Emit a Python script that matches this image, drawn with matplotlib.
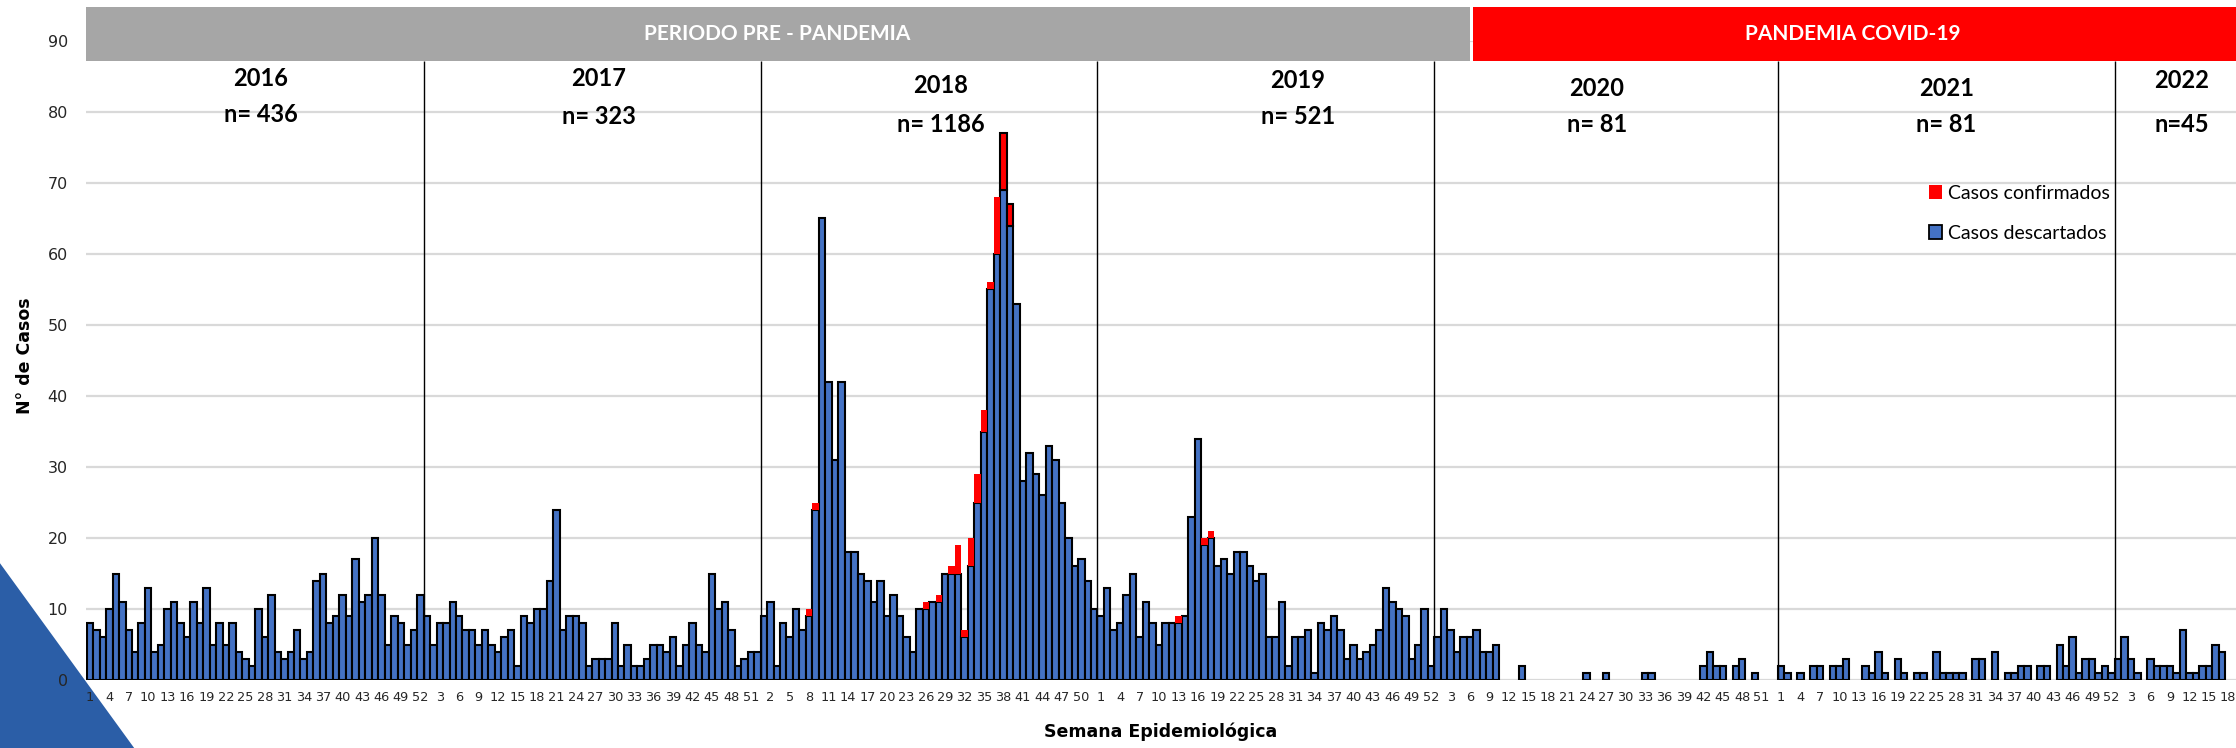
import numpy as np
import matplotlib
matplotlib.use('Agg')
import matplotlib.pyplot as plt
from matplotlib.patches import Patch, Rectangle, Polygon

# ---------------- data ----------------
years = ['2016', '2017', '2018', '2019', '2020', '2021', '2022']
n_labels = ['n= 436', 'n= 323', 'n= 1186', 'n= 521', 'n= 81', 'n= 81', 'n=45']
weeks_per_year = [52, 52, 52, 52, 53, 52, 18]

desc_2016 = [8, 7, 6, 10, 15, 11, 7, 4, 8, 13, 4, 5, 10, 11, 8, 6, 11, 8, 13, 5, 8, 5, 8, 4, 3, 2,
             10, 6, 12, 4, 3, 4, 7, 3, 4, 14, 15, 8, 9, 12, 9, 17, 11, 12, 20, 12, 5, 9, 8, 5, 7, 12]
desc_2017 = [9, 5, 8, 8, 11, 9, 7, 7, 5, 7, 5, 4, 6, 7, 2, 9, 8, 10, 10, 14, 24, 7, 9, 9, 8, 2,
             3, 3, 3, 8, 2, 5, 2, 2, 3, 5, 5, 4, 6, 2, 5, 8, 5, 4, 15, 10, 11, 7, 2, 3, 4, 4]
desc_2018 = [9, 11, 2, 8, 6, 10, 7, 9, 24, 65, 42, 31, 42, 18, 18, 15, 14, 11, 14, 9, 12, 9, 6, 4, 10, 10, 11,
             11, 15, 15, 15, 6, 16, 25, 35, 55, 60, 69, 64, 53, 28, 32, 29, 26, 33, 31, 25, 20, 16, 17, 14, 10]
desc_2019 = [9, 13, 7, 8, 12, 15, 6, 11, 8, 5, 8, 8, 8, 9, 23, 34, 19, 20, 16, 17, 15, 18, 18, 16, 14, 15, 6,
             6, 11, 2, 6, 6, 7, 1, 8, 7, 9, 7, 3, 5, 3, 4, 5, 7, 13, 11, 10, 9, 3, 5, 10, 2]
desc_2020 = [6, 10, 7, 4, 6, 6, 7, 4, 4, 5, 0, 0, 0, 2, 0, 0, 0, 0, 0, 0,
             0, 0, 0, 1, 0, 0, 1, 0, 0, 0, 0, 0, 1, 1, 0, 0, 0, 0, 0, 0,
             0, 2, 4, 2, 2, 0, 2, 3, 0, 1, 0, 0, 0]
desc_2021 = [2, 1, 0, 1, 0, 2, 2, 0, 2, 2, 3, 0, 0, 2, 1, 4, 1, 0, 3, 1,
             0, 1, 1, 0, 4, 1, 1, 1, 1, 0, 3, 3, 0, 4, 0, 1, 1, 2, 2, 0,
             2, 2, 0, 5, 2, 6, 1, 3, 3, 1, 2, 1]
desc_2022 = [3, 6, 3, 1, 0, 3, 2, 2, 2, 1, 7, 1, 1, 2, 2, 5, 4, 0]

conf_2016 = [0] * 52
conf_2017 = [0] * 52
conf_2018 = [0, 0, 0, 0, 0, 0, 0, 1, 1, 0, 0, 0, 0, 0, 0, 0, 0, 0, 0, 0,
             0, 0, 0, 0, 0, 1, 0, 1, 0, 1, 4, 1, 4, 4, 3, 1, 8, 8, 3, 0,
             0, 0, 0, 0, 0, 0, 0, 0, 0, 0, 0, 0]
conf_2019 = [0, 0, 0, 0, 0, 0, 0, 0, 0, 0, 0, 0, 1, 0, 0, 0, 1, 1, 0, 0,
             0, 0, 0, 0, 0, 0, 0, 0, 0, 0, 0, 0, 0, 0, 0, 0, 0, 0, 0, 0,
             0, 0, 0, 0, 0, 0, 0, 0, 0, 0, 0, 0]
conf_2020 = [0] * 53
conf_2021 = [0] * 52
conf_2022 = [0] * 18

period_labels = ['PERIODO PRE - PANDEMIA', 'PANDEMIA COVID-19']
legend_labels = ['Casos confirmados', 'Casos descartados']

# ---------------- assemble ----------------
desc = np.array(desc_2016 + desc_2017 + desc_2018 + desc_2019 + desc_2020 + desc_2021 + desc_2022, float)
conf = np.array(conf_2016 + conf_2017 + conf_2018 + conf_2019 + conf_2020 + conf_2021 + conf_2022, float)
week_labels = []
for nw in weeks_per_year:
    week_labels += [str(w) for w in range(1, nw + 1)]
N = len(desc)
x = np.arange(N)
starts = np.cumsum([0] + weeks_per_year)

BLUE = '#4472C4'
RED = '#FF0000'
NARROW = ['Liberation Sans Narrow', 'Lato', 'DejaVu Sans']

fig = plt.figure(figsize=(22.36, 7.48), dpi=100)
ax = fig.add_axes([86 / 2236, 68 / 748, (2236 - 86) / 2236, (680 - 41) / 748])

edge_desc = ['black' if v > 0 else 'none' for v in desc]
ax.bar(x, desc, width=1.0, color=BLUE, edgecolor=edge_desc, linewidth=1.5, zorder=3)
# in the original, the confirmed segments of 2018 weeks 38 and 39 are outlined
outlined = {starts[2] + 37, starts[2] + 38}
edge_conf = ['black' if i in outlined else 'none' for i in range(N)]
ax.bar(x, conf, bottom=desc, width=1.0, color=RED, edgecolor=edge_conf, linewidth=1.5, zorder=3)

ax.set_xlim(-0.6, 331.2)
ax.set_ylim(0, 90)
ax.set_yticks(range(0, 91, 10))
ax.yaxis.grid(True, color='#d9d9d9', linewidth=1.6, zorder=0)
ax.set_axisbelow(True)
for s in ax.spines.values():
    s.set_visible(False)
ax.set_xticks(x[::3])
ax.set_xticklabels(week_labels[::3], fontsize=9.3, color='#262626')
ax.tick_params(axis='x', length=0, pad=8)
ax.tick_params(axis='y', length=0, pad=13, labelsize=11.5, labelcolor='#262626')

# year separators
bounds = starts[1:-1] - 0.5
ax.vlines(bounds, 0, 87.2, color='black', linewidth=1.0, zorder=4)

# period bands
split = 213.0
ax.add_patch(Rectangle((-0.6, 87.2), split + 0.6, 7.6, facecolor='#a6a6a6', edgecolor='none',
                       clip_on=False, zorder=5))
ax.add_patch(Rectangle((split + 0.4, 87.2), 331.2 - split - 0.4, 7.6, facecolor=RED, edgecolor='none',
                       clip_on=False, zorder=5))
ax.text(106, 91.0, period_labels[0], color='white', fontweight='bold', ha='center', va='center',
        fontsize=15, family=NARROW, clip_on=False, zorder=6)
ax.text(272, 91.0, period_labels[1], color='white', fontweight='bold', ha='center', va='center',
        fontsize=15, family=NARROW, clip_on=False, zorder=6)

# year annotations
year_x = [26.4, 78.5, 131.3, 186.4, 232.6, 286.5, 322.8]
year_y = [84.7, 84.7, 83.7, 84.5, 83.3, 83.3, 84.5]
n_y = [79.7, 79.3, 78.3, 79.3, 78.3, 78.3, 78.3]
for xi, yy, ny, yl, nl in zip(year_x, year_y, n_y, years, n_labels):
    ax.text(xi, yy, yl, ha='center', va='center', fontsize=17, fontweight='bold', family=NARROW,
            color='black', zorder=6)
    ax.text(xi, ny, nl, ha='center', va='center', fontsize=17, fontweight='bold', family=NARROW,
            color='black', zorder=6)

# legend
handles = [Patch(facecolor=RED, edgecolor='none'), Patch(facecolor=BLUE, edgecolor='black', linewidth=1.3)]
leg = ax.legend(handles, legend_labels, loc='upper left', bbox_to_anchor=(0.857, 0.775), frameon=False,
                handlelength=0.7, handleheight=0.7, handletextpad=0.3, labelspacing=1.2,
                borderpad=0, borderaxespad=0, prop={'family': NARROW, 'size': 14})

ax.set_xlabel('Semana Epidemiológica', fontsize=12.5, fontweight='bold')
ax.xaxis.set_label_coords(0.5, -0.066)
ax.set_ylabel('N° de Casos', fontsize=12.5, fontweight='bold')
ax.yaxis.set_label_coords(-0.024, 0.507)

# decorative corner
fig.add_artist(Polygon([[0, 0], [0, 0.247], [0.060, 0]], closed=True, transform=fig.transFigure,
                       facecolor='#2b5ea7', edgecolor='none', zorder=0))

fig.savefig('out.png', dpi=100)
